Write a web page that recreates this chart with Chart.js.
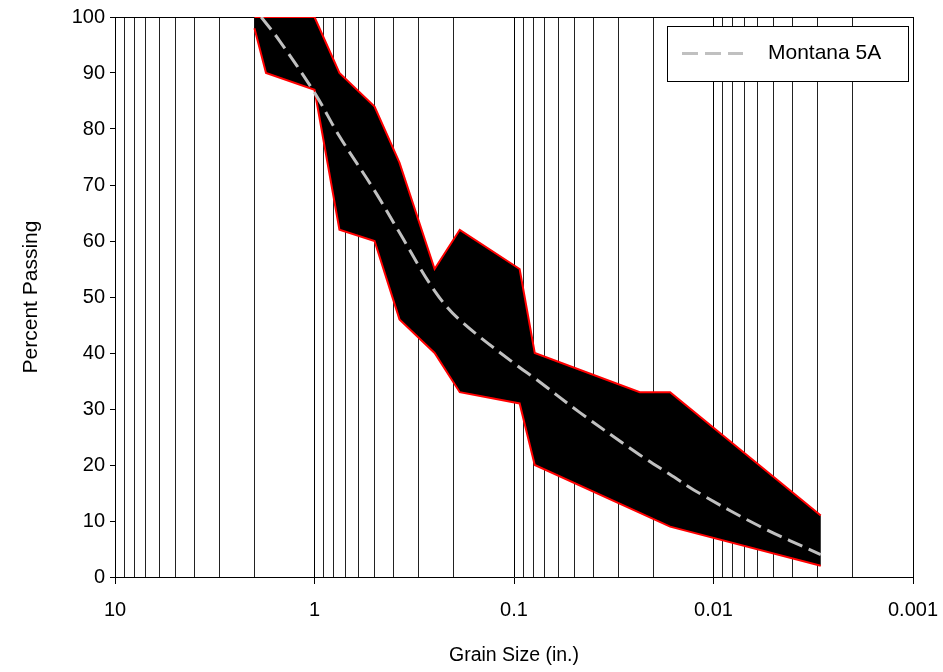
<!DOCTYPE html>
<html>
<head>
<meta charset="utf-8">
<script src="https://cdn.jsdelivr.net/npm/chart.js@4.4.1/dist/chart.umd.min.js"></script>
<style>
  html, body { margin: 0; padding: 0; background: #fff; }
  #wrap { width: 943px; height: 672px; position: relative; }
</style>
</head>
<body>
<div id="wrap"><canvas id="c" width="943" height="672"></canvas></div>
<script>
// ---- data ----
const seriesLabel = 'Montana 5A';
const curveSize = [1.85, 1.5, 1, 0.75, 0.5, 0.375, 0.25, 0.187, 0.0937, 0.0787, 0.0469, 0.0234, 0.0165, 0.0117, 0.0059, 0.0029];
const curvePct  = [100, 95.8, 86.5, 78.7, 69.0, 61.5, 51.1, 45.9, 37.4, 35.5, 29.4, 21.8, 18.3, 14.9, 9.1, 4.0];

const upperSize = [2, 1, 0.75, 0.5, 0.375, 0.25, 0.187, 0.0937, 0.0787, 0.0234, 0.0165, 0.0029];
const upperPct  = [100, 100, 90, 84, 74, 55, 62, 55, 40, 33, 33, 11];
const lowerSize = [2, 1.75, 1, 0.75, 0.5, 0.375, 0.25, 0.187, 0.0937, 0.0787, 0.0165, 0.0029];
const lowerPct  = [98, 90, 87, 62, 60, 46, 40, 33, 31, 20, 9, 2];

const xTickLabels = ['10', '1', '0.1', '0.01', '0.001'];
const xTickValues = [10, 1, 0.1, 0.01, 0.001];
const minorMultipliers = [1, 2, 3, 4, 5, 6, 7, 8, 9];
const yTicks = [0, 10, 20, 30, 40, 50, 60, 70, 80, 90, 100];

// ---- build structures ----
const pts = (xs, ys) => xs.map((x, i) => ({ x: x, y: ys[i] }));
const bandPolygon = pts(upperSize, upperPct).concat(pts(lowerSize, lowerPct).reverse());

const gridValues = [];
[0.001, 0.01, 0.1, 1].forEach(d => minorMultipliers.forEach(m => gridValues.push(+(d * m).toPrecision(6))));
gridValues.push(10);

const isDecade = v => xTickValues.some(d => Math.abs(v - d) / d < 1e-6);
const labelFor = v => { const i = xTickValues.findIndex(d => Math.abs(v - d) / d < 1e-6); return i >= 0 ? xTickLabels[i] : ''; };

const FONT = "'Liberation Sans', Arial, sans-serif";

const legendBoxPlugin = {
  id: 'legendBox',
  afterDraw(chart) {
    const { ctx, chartArea } = chart;
    const ds = chart.data.datasets[0];
    const w = 241, h = 55;
    const x = chartArea.right - 5 - w, y = chartArea.top + 9;
    ctx.save();
    ctx.fillStyle = '#fff';
    ctx.fillRect(x, y, w, h);
    ctx.strokeStyle = '#000';
    ctx.lineWidth = 1;
    ctx.strokeRect(Math.round(x) + 0.5, Math.round(y) + 0.5, w, h);
    ctx.strokeStyle = ds.borderColor;
    ctx.lineWidth = ds.borderWidth;
    ctx.setLineDash(ds.borderDash);
    ctx.beginPath();
    ctx.moveTo(x + 15, y + h / 2);
    ctx.lineTo(x + 76, y + h / 2);
    ctx.stroke();
    ctx.setLineDash([]);
    ctx.fillStyle = '#000';
    ctx.font = '21px ' + FONT;
    ctx.textBaseline = 'middle';
    ctx.textAlign = 'left';
    ctx.fillText(ds.label, x + 101, y + h / 2);
    ctx.restore();
  }
};

new Chart(document.getElementById('c'), {
  type: 'line',
  data: {
    datasets: [
      {
        label: seriesLabel,
        data: pts(curveSize, curvePct),
        borderColor: '#c0c0c0',
        borderWidth: 3,
        borderDash: [16, 7],
        pointRadius: 0,
        tension: 0.35,
        fill: false,
        order: 0
      },
      {
        label: 'upper',
        data: pts(upperSize, upperPct),
        borderColor: '#ff0000',
        borderWidth: 2,
        pointRadius: 0,
        tension: 0,
        fill: false,
        order: 1
      },
      {
        label: 'lower',
        data: pts(lowerSize, lowerPct),
        borderColor: '#ff0000',
        borderWidth: 2,
        pointRadius: 0,
        tension: 0,
        fill: false,
        order: 1
      },
      {
        label: 'band',
        data: bandPolygon,
        borderWidth: 0,
        borderColor: 'rgba(0,0,0,0)',
        backgroundColor: '#000',
        pointRadius: 0,
        tension: 0,
        fill: 'shape',
        order: 2
      }
    ]
  },
  options: {
    responsive: false,
    animation: false,
    events: [],
    layout: { padding: { left: 0, right: 30, top: 16, bottom: 0 } },
    plugins: {
      legend: { display: false },
      tooltip: { enabled: false }
    },
    scales: {
      x: {
        type: 'logarithmic',
        position: 'bottom',
        reverse: true,
        min: 0.001,
        max: 10,
        afterBuildTicks: s => { s.ticks = gridValues.map(v => ({ value: v, major: isDecade(v) })); },
        afterFit: s => { s.height = 95; },
        ticks: {
          autoSkip: false,
          maxRotation: 0,
          minRotation: 0,
          padding: 14,
          color: '#000',
          font: { family: FONT, size: 20 },
          callback: v => labelFor(v)
        },
        grid: {
          display: true,
          drawOnChartArea: true,
          drawTicks: true,
          tickLength: 7,
          lineWidth: 1,
          color: c => (c.tick && isDecade(c.tick.value)) ? '#000' : '#222',
          tickColor: c => (c.tick && isDecade(c.tick.value)) ? '#000' : 'rgba(0,0,0,0)'
        },
        border: { display: true, color: '#000', width: 1 },
        title: {
          display: true,
          text: 'Grain Size (in.)',
          color: '#000',
          font: { family: FONT, size: 19.5 },
          padding: { top: 0, bottom: 5 }
        }
      },
      y: {
        type: 'linear',
        position: 'left',
        min: 0,
        max: 100,
        afterBuildTicks: s => { s.ticks = yTicks.map(v => ({ value: v })); },
        afterFit: s => { s.width = 115; },
        ticks: {
          padding: 5,
          color: '#000',
          font: { family: FONT, size: 20 }
        },
        grid: {
          display: true,
          drawOnChartArea: false,
          drawTicks: true,
          tickLength: 5,
          tickColor: '#000'
        },
        border: { display: true, color: '#000', width: 1 },
        title: {
          display: true,
          text: 'Percent Passing',
          color: '#000',
          font: { family: FONT, size: 21 },
          padding: { top: 19, bottom: 0 }
        }
      },
      x2: {
        type: 'linear',
        position: 'top',
        display: true,
        ticks: { display: false },
        grid: { display: true, drawOnChartArea: false, drawTicks: false },
        border: { display: true, color: '#000', width: 1 },
        afterFit: s => { s.height = 0; }
      },
      y2: {
        type: 'linear',
        position: 'right',
        display: true,
        ticks: { display: false },
        grid: { display: true, drawOnChartArea: false, drawTicks: false },
        border: { display: true, color: '#000', width: 1 },
        afterFit: s => { s.width = 0; }
      }
    }
  },
  plugins: [legendBoxPlugin]
});
</script>
</body>
</html>
